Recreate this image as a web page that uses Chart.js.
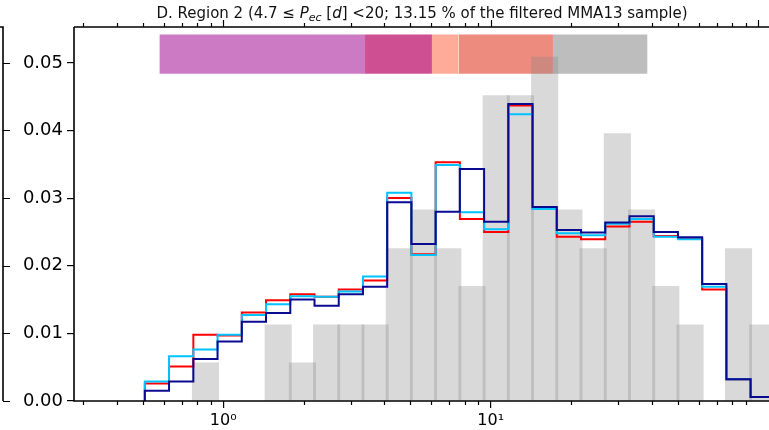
<!DOCTYPE html>
<html><head><meta charset="utf-8">
<script src="https://cdn.jsdelivr.net/npm/chart.js@4/dist/chart.umd.min.js"></script>
<style>
html,body{margin:0;padding:0;background:#fff;overflow:hidden;}
#wrap{width:769px;height:430px;overflow:hidden;position:relative;}
canvas{display:block;}
</style></head><body>
<div id="wrap"><canvas id="c" width="844" height="430" style="width:844px;height:430px"></canvas></div>
<script>
// ---- data ----
const binEdges = [0.509,0.627,0.773,0.952,1.173,1.445,1.781,2.194,2.703,3.330,4.102,5.053,6.226,7.670,9.450,11.64,14.34,17.67,21.77,26.82,33.04,40.71,50.15,61.78,76.12,93.76,115.5];
const fracRed  = [0.0026,0.0051,0.0098,0.0097,0.0131,0.0149,0.0158,0.0154,0.0165,0.0178,0.0300,0.0217,0.0353,0.0269,0.0250,0.0437,0.0285,0.0243,0.0239,0.0258,0.0265,0.0244,0.0240,0.0165,0.0032,0.0006];
const fracCyan = [0.0029,0.0066,0.0076,0.0098,0.0127,0.0143,0.0155,0.0154,0.0162,0.0184,0.0308,0.0216,0.0349,0.0279,0.0254,0.0424,0.0284,0.0248,0.0245,0.0262,0.0269,0.0243,0.0239,0.0169,0.0032,0.0006];
const fracNavy = [0.0015,0.0029,0.0062,0.0088,0.0117,0.0130,0.0150,0.0141,0.0158,0.0169,0.0294,0.0232,0.0280,0.0343,0.0265,0.0439,0.0287,0.0253,0.0249,0.0264,0.0273,0.0250,0.0242,0.0173,0.0032,0.0006];
const grayHist = [0,0,0.0057,0,0,0.0113,0.0057,0.0113,0.0113,0.0113,0.0226,0.0283,0.0226,0.0170,0.0452,0.0452,0.0509,0.0283,0.0226,0.0396,0.0283,0.0170,0.0113,0,0.0226,0.0113];
const bandStart = [0.577,3.39,6.03,7.58,17.1];
const bandEnd   = [3.39,6.03,7.58,17.1,38.6];
const bandLow = 0.0484, bandHigh = 0.0542;
const bandColors = ['rgb(204,122,196)','rgb(207,79,147)','rgb(255,171,153)','rgb(238,139,127)','rgb(189,189,189)'];
const yTicks = [0,0.01,0.02,0.03,0.04,0.05];
const xMajorTicks = [1,10];
const xTickLabels = ['10\u2070','10\u00b9'];
const xMin = 0.2766, xMax = 110.8, yMin = 0, yMax = 0.0553;
const titleParts = [['D. Region 2 (4.7 \u2264 ','n'],['P','i'],['ec','s'],[' [','n'],['d','i'],['] <20; 13.15 % of the filtered MMA13 sample)','n']];

// ---- build datasets ----
function stepData(vals){
  const pts=[{x:binEdges[0],y:0}];
  vals.forEach((v,i)=>pts.push({x:binEdges[i],y:v}));
  pts.push({x:binEdges[vals.length],y:0});
  return pts;
}
const centers = grayHist.map((_,i)=>Math.sqrt(binEdges[i]*binEdges[i+1]));
const datasets = [];
const lines = [['navy','rgb(10,10,145)',0],['cyan','rgb(0,195,255)',1],['red','rgb(255,0,0)',2]];
const lineVals = {navy:fracNavy,cyan:fracCyan,red:fracRed};
lines.forEach(([k,c,o])=>datasets.push({type:'line',label:k,data:stepData(lineVals[k]),stepped:true,borderColor:c,borderWidth:2,pointRadius:0,fill:false,order:o,tension:0}));
datasets.push({type:'bar',label:'sample',data:centers.map((x,i)=>({x,y:grayHist[i]})),backgroundColor:'rgba(128,128,128,0.3)',borderWidth:0,categoryPercentage:1.12,barPercentage:1,order:3});
bandStart.forEach((s,i)=>datasets.push({type:'line',label:'band'+i,data:[{x:s,y:bandHigh},{x:bandEnd[i],y:bandHigh}],borderWidth:0,borderColor:'rgba(0,0,0,0)',backgroundColor:bandColors[i],pointRadius:0,fill:{value:bandLow},order:4+i}));

const FONT='"DejaVu Sans", sans-serif';
const decor = {
  id:'decor',
  afterDraw(chart){
    const {ctx, chartArea:a, scales:{x,y}} = chart;
    ctx.save();
    ctx.strokeStyle='#000';
    // x minor + top ticks
    ctx.lineWidth=1.2;
    ctx.beginPath();
    for(let d=-1; d<=2; d++){
      for(let m=1; m<=9; m++){
        const v=m*Math.pow(10,d);
        if(v<xMin||v>xMax) continue;
        const px=Math.round(x.getPixelForValue(v))+0.5;
        const major = (m===1);
        const L = major?7:4;
        if(!major){ ctx.moveTo(px,a.bottom); ctx.lineTo(px,a.bottom+L); }
        ctx.moveTo(px,a.top); ctx.lineTo(px,a.top-L);
      }
    }
    ctx.stroke();
    // spines
    ctx.lineWidth=1.6;
    ctx.beginPath();
    ctx.moveTo(a.left,a.top); ctx.lineTo(a.left,a.bottom); ctx.lineTo(a.right,a.bottom);
    ctx.moveTo(a.left,a.top); ctx.lineTo(a.right,a.top);
    ctx.stroke();
    // neighbouring panel's right spine
    ctx.beginPath();
    ctx.moveTo(0,a.top); ctx.lineTo(3,a.top); ctx.lineTo(3,a.bottom);
    ctx.stroke();
    ctx.lineWidth=1.2;
    ctx.beginPath();
    yTicks.forEach(v=>{const py=Math.round(y.getPixelForValue(v))+0.5; ctx.moveTo(3,py); ctx.lineTo(10,py);});
    ctx.stroke();
    // title
    const fs=15;
    const fonts={n:`${fs}px ${FONT}`, i:`italic ${fs}px ${FONT}`, s:`italic ${Math.round(fs*0.7)}px ${FONT}`};
    let total=0;
    titleParts.forEach(([t,k])=>{ctx.font=fonts[k]; total+=ctx.measureText(t).width;});
    let cx=(a.left+a.right)/2 - total/2;
    const base=18;
    ctx.fillStyle='#111';
    ctx.textBaseline='alphabetic';
    titleParts.forEach(([t,k])=>{ctx.font=fonts[k]; ctx.fillText(t,cx,k==='s'?base+3:base); cx+=ctx.measureText(t).width;});
    ctx.restore();
  }
};

new Chart(document.getElementById('c'),{
  type:'bar',
  data:{datasets},
  options:{
    responsive:false, animation:false, devicePixelRatio:1,
    layout:{padding:{top:27,right:74,left:0,bottom:0}},
    plugins:{legend:{display:false},tooltip:{enabled:false},title:{display:false}},
    scales:{
      x:{type:'logarithmic',min:xMin,max:xMax,offset:false,
        grid:{display:true,drawOnChartArea:false,offset:false,tickLength:7,color:'#000',lineWidth:1.2},
        border:{display:false},
        afterBuildTicks:(s)=>{s.ticks=xMajorTicks.map(v=>({value:v}));},
        afterFit:(s)=>{s.height=29;},
        ticks:{autoSkip:false,maxRotation:0,color:'#000',padding:3,font:{family:FONT,size:16},
          callback:(v)=>{const i=xMajorTicks.indexOf(v); return i>=0?xTickLabels[i]:'';}}
      },
      y:{type:'linear',min:yMin,max:yMax,
        grid:{display:true,drawOnChartArea:false,tickLength:7,color:'#000',lineWidth:1.2},
        border:{display:false},
        afterFit:(s)=>{s.width=74;},
        afterBuildTicks:(s)=>{s.ticks=yTicks.map(v=>({value:v}));},
        ticks:{color:'#000',padding:4,font:{family:FONT,size:18},callback:(v)=>v.toFixed(2)}
      }
    }
  },
  plugins:[decor]
});
</script>
</body></html>
